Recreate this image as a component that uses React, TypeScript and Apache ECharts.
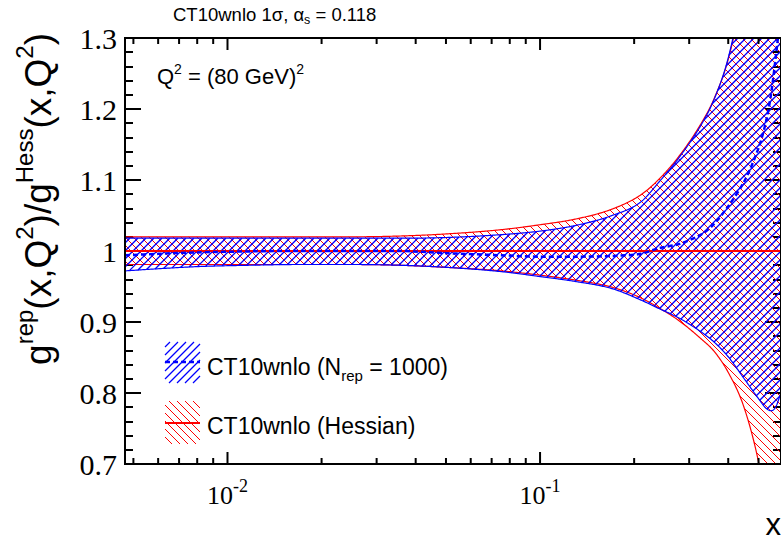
import React, { useEffect, useRef } from "react";
import * as echarts from "echarts";

// x values (log axis)
const xs = [0.0047, 0.006, 0.008, 0.012, 0.017, 0.025, 0.035, 0.05, 0.075, 0.1, 0.13, 0.17, 0.21, 0.24, 0.28, 0.33, 0.36, 0.4, 0.45, 0.5, 0.53, 0.55, 0.57, 0.59];
// Hessian band (red)
const hessUpper = [1.02, 1.02, 1.02, 1.02, 1.02, 1.02, 1.021, 1.024, 1.03, 1.037, 1.045, 1.059, 1.079, 1.101, 1.135, 1.182, 1.214, 1.27, 1.375, 1.5, 1.6, 1.68, 1.76, 1.85];
const hessLower = [0.981, 0.981, 0.981, 0.981, 0.981, 0.981, 0.98, 0.977, 0.972, 0.966, 0.959, 0.949, 0.934, 0.92, 0.901, 0.875, 0.859, 0.829, 0.779, 0.703, 0.64, 0.6, 0.56, 0.52];
const hessCentral = [1, 1, 1, 1, 1, 1, 1, 1, 1, 1, 1, 1, 1, 1, 1, 1, 1, 1, 1, 1, 1, 1, 1, 1];
// Replica band (blue)
const repUpper = [1.018, 1.018, 1.018, 1.018, 1.018, 1.018, 1.018, 1.019, 1.023, 1.028, 1.036, 1.05, 1.069, 1.097, 1.133, 1.18, 1.213, 1.272, 1.38, 1.5, 1.6, 1.68, 1.77, 1.86];
const repLower = [0.972, 0.975, 0.978, 0.98, 0.981, 0.981, 0.98, 0.977, 0.971, 0.964, 0.957, 0.947, 0.931, 0.919, 0.905, 0.885, 0.872, 0.851, 0.82, 0.792, 0.778, 0.775, 0.782, 0.801];
const repCentral = [0.994, 0.996, 0.998, 0.9995, 1.0, 1.0, 1.0, 0.997, 0.994, 0.992, 0.992, 0.993, 0.996, 1.004, 1.01, 1.024, 1.038, 1.063, 1.098, 1.145, 1.185, 1.225, 1.28, 1.34];

// axis ticks
const xMajorTicks = [0.01, 0.1];
const xMinorTicks = [0.005, 0.006, 0.007, 0.008, 0.009, 0.02, 0.03, 0.04, 0.05, 0.06, 0.07, 0.08, 0.09, 0.2, 0.3, 0.4, 0.5];

const BLUE = "#0000ff";
const RED = "#ff0000";
const SANS = "Liberation Sans";
const SERIF = "Liberation Serif";
const HATCH = 8;
const BLUE_HATCH_W = 1.3;
const RED_HATCH_W = 1;

// monotone cubic interpolation in pixel space (rendering only)
function monotone(px: number[], py: number[]) {
  const n = px.length;
  const d: number[] = [];
  const m: number[] = new Array(n).fill(0);
  for (let i = 0; i < n - 1; i++) d.push((py[i + 1] - py[i]) / (px[i + 1] - px[i]));
  m[0] = d[0];
  m[n - 1] = d[n - 2];
  for (let i = 1; i < n - 1; i++) m[i] = d[i - 1] * d[i] <= 0 ? 0 : (d[i - 1] + d[i]) / 2;
  for (let i = 0; i < n - 1; i++) {
    if (d[i] === 0) { m[i] = 0; m[i + 1] = 0; continue; }
    const a = m[i] / d[i], b = m[i + 1] / d[i];
    const s = a * a + b * b;
    if (s > 9) { const t = 3 / Math.sqrt(s); m[i] = t * a * d[i]; m[i + 1] = t * b * d[i]; }
  }
  return (x: number) => {
    if (x <= px[0]) return py[0] + m[0] * (x - px[0]);
    if (x >= px[n - 1]) return py[n - 1] + m[n - 1] * (x - px[n - 1]);
    let i = 0;
    while (i < n - 2 && x > px[i + 1]) i++;
    const h = px[i + 1] - px[i];
    const t = (x - px[i]) / h;
    const t2 = t * t, t3 = t2 * t;
    return (2 * t3 - 3 * t2 + 1) * py[i] + (t3 - 2 * t2 + t) * h * m[i] + (-2 * t3 + 3 * t2) * py[i + 1] + (t3 - t2) * h * m[i + 1];
  };
}

// hatch segments of 45deg lines inside region fTop(x) <= y <= fBot(x), x0<=x<=x1, yMin<=y<=yMax
function hatchSegments(x0: number, x1: number, fTop: (x: number) => number, fBot: (x: number) => number, back: boolean, yMin: number, yMax: number) {
  const segs: number[][] = [];
  const lineY = (c: number, x: number) => (back ? x - c : c - x);
  const inside = (c: number, x: number) => {
    const y = lineY(c, x);
    return y >= Math.max(fTop(x), yMin) && y <= Math.min(fBot(x), yMax) && x >= x0 && x <= x1;
  };
  const cMin = back ? x0 - yMax : x0 + yMin;
  const cMax = back ? x1 - yMin : x1 + yMax;
  const k0 = Math.ceil(cMin / HATCH), k1 = Math.floor(cMax / HATCH);
  for (let k = k0; k <= k1; k++) {
    const c = k * HATCH;
    let a = back ? c + yMin : c - yMax;
    let b = back ? c + yMax : c - yMin;
    a = Math.max(a, x0);
    b = Math.min(b, x1);
    if (b <= a) continue;
    const step = 0.5;
    let prev = inside(c, a);
    let start = prev ? a : NaN;
    for (let x = a + step; x <= b + 1e-9; x += step) {
      const cur = inside(c, x);
      if (cur !== prev) {
        let lo = x - step, hi = x;
        for (let it = 0; it < 8; it++) {
          const mid = (lo + hi) / 2;
          if (inside(c, mid) === prev) lo = mid; else hi = mid;
        }
        const xb = prev ? lo : hi;
        if (cur) start = xb;
        else { segs.push([start, lineY(c, start), xb, lineY(c, xb)]); start = NaN; }
        prev = cur;
      }
    }
    if (prev && !isNaN(start)) {
      const xe = Math.min(b, x1);
      segs.push([start, lineY(c, start), xe, lineY(c, xe)]);
    }
  }
  return segs;
}

// dense polyline runs clipped to [yMin, yMax]
function clippedRuns(f: (x: number) => number, x0: number, x1: number, yMin: number, yMax: number) {
  const runs: number[][][] = [];
  let cur: number[][] = [];
  let prevX = x0, prevY = f(x0);
  const inR = (y: number) => y >= yMin && y <= yMax;
  if (inR(prevY)) cur.push([prevX, prevY]);
  for (let x = x0 + 1; ; x += 1) {
    const xx = Math.min(x, x1);
    const y = f(xx);
    const pi = inR(prevY), ci = inR(y);
    if (pi !== ci) {
      const outY = pi ? y : prevY;
      const bound = outY < yMin ? yMin : yMax;
      const t = (bound - prevY) / (y - prevY);
      const bx = prevX + t * (xx - prevX);
      cur.push([bx, bound]);
      if (pi) { runs.push(cur); cur = []; }
    }
    if (ci) cur.push([xx, y]);
    prevX = xx; prevY = y;
    if (xx >= x1) break;
  }
  if (cur.length > 1) runs.push(cur);
  return runs;
}

function bandSeries(lower: number[], upper: number[], color: string, back: boolean, hatchW: number, z: number) {
  return {
    type: "custom",
    silent: true,
    z,
    encode: { x: 0, y: [1, 2] },
    data: xs.map((x, i) => [x, lower[i], upper[i]]),
    renderItem: (params: any, api: any) => {
      if (params.dataIndexInside !== 0) return null;
      const n = params.dataInsideLength;
      const px: number[] = [], pyU: number[] = [], pyL: number[] = [];
      for (let i = 0; i < n; i++) {
        const x = api.value(0, i);
        const pl = api.coord([x, api.value(1, i)]);
        const pu = api.coord([x, api.value(2, i)]);
        px.push(pl[0]);
        pyL.push(pl[1]);
        pyU.push(pu[1]);
      }
      const cs = params.coordSys;
      const yMin = cs.y, yMax = cs.y + cs.height;
      const x0 = Math.max(px[0], cs.x), x1 = Math.min(px[n - 1], cs.x + cs.width);
      const fU = monotone(px, pyU);
      const fL = monotone(px, pyL);
      const children: any[] = [];
      for (const s of hatchSegments(x0, x1, fU, fL, back, yMin, yMax)) {
        children.push({ type: "line", shape: { x1: s[0], y1: s[1], x2: s[2], y2: s[3] }, style: { stroke: color, lineWidth: hatchW } });
      }
      for (const f of [fU, fL]) {
        for (const run of clippedRuns(f, x0, x1, yMin, yMax)) {
          children.push({ type: "polyline", shape: { points: run }, style: { stroke: color, lineWidth: 1.2, fill: null } });
        }
      }
      return { type: "group", children };
    },
  };
}

function legendHatch(x: number, y: number, w: number, h: number, color: string, back: boolean, lw: number) {
  return hatchSegments(x, x + w, () => y, () => y + h, back, y, y + h).map((s) => ({
    type: "line",
    shape: { x1: s[0], y1: s[1], x2: s[2], y2: s[3] },
    style: { stroke: color, lineWidth: lw },
  }));
}

export default function App() {
  const ref = useRef<HTMLDivElement>(null);
  useEffect(() => {
    const chart = echarts.init(ref.current!, null, { renderer: "svg" });
    const pts = (arr: number[]) => xs.map((x, i) => [x, arr[i]]);

    const yAxisBase = {
      type: "value",
      min: 0.7,
      max: 1.3,
      interval: 0.1,
      axisLine: { show: false },
      axisTick: { show: true, inside: true, length: 16, lineStyle: { color: "#000", width: 2 } },
      minorTick: { show: true, splitNumber: 5, length: 8, lineStyle: { color: "#000", width: 2 } },
      splitLine: { show: false },
      minorSplitLine: { show: false },
    };

    const option: any = {
      animation: false,
      backgroundColor: "#fff",
      grid: { left: 125, right: 0, top: 38, bottom: 77, show: true, borderColor: "#000", borderWidth: 2, backgroundColor: "transparent", z: 8 },
      xAxis: {
        type: "log",
        logBase: 10,
        min: 0.0047,
        max: 0.59,
        axisLine: { show: false },
        axisTick: { show: false },
        minorTick: { show: false },
        splitLine: { show: false },
        minorSplitLine: { show: false },
        axisLabel: {
          showMinLabel: false,
          showMaxLabel: false,
          margin: 16,
          formatter: (v: number) => {
            const l = Math.log10(v);
            const e = Math.round(l);
            if (Math.abs(l - e) > 1e-6) return "";
            return `{b|10}{s|${e}}`;
          },
          rich: {
            b: { fontFamily: SERIF, fontSize: 26, lineHeight: 30, color: "#000", verticalAlign: "middle" },
            s: { fontFamily: SERIF, fontSize: 18, lineHeight: 18, color: "#000", verticalAlign: "middle", padding: [0, 0, 18, 0] },
          },
        },
      },
      yAxis: [
        {
          ...yAxisBase,
          position: "left",
          axisLabel: {
            fontFamily: SERIF,
            fontSize: 30,
            color: "#000",
            margin: 8,
            formatter: (v: number) => String(Math.round(v * 10) / 10),
          },
        },
        { ...yAxisBase, position: "right", axisLabel: { show: false } },
      ],
      series: [
        bandSeries(hessLower, hessUpper, RED, true, RED_HATCH_W, 2),
        bandSeries(repLower, repUpper, BLUE, false, BLUE_HATCH_W, 3),
        { type: "line", z: 5, data: pts(hessCentral), symbol: "none", lineStyle: { color: RED, width: 2 }, silent: true },
        { type: "line", z: 6, data: pts(repCentral), symbol: "none", smooth: 0.3, lineStyle: { color: BLUE, width: 2.5, type: [5, 3] }, silent: true },
        // x-axis ticks (bottom and top)
        {
          type: "custom",
          silent: true,
          z: 10,
          encode: { x: 0, y: 1 },
          data: [...xMajorTicks.map((v) => [v, 1, 1]), ...xMinorTicks.map((v) => [v, 1, 0])],
          renderItem: (params: any, api: any) => {
            const v = api.value(0);
            const major = api.value(2);
            const p = api.coord([v, 1]);
            const cs = params.coordSys;
            const len = major ? 12 : 6;
            const yb = cs.y + cs.height;
            return {
              type: "group",
              children: [
                { type: "line", shape: { x1: p[0], y1: yb, x2: p[0], y2: yb - len }, style: { stroke: "#000", lineWidth: 2 } },
                { type: "line", shape: { x1: p[0], y1: cs.y, x2: p[0], y2: cs.y + len }, style: { stroke: "#000", lineWidth: 2 } },
              ],
            };
          },
        },
      ],
      graphic: [
        {
          type: "text",
          x: 38,
          y: 33,
          rotation: Math.PI / 2,
          style: {
            text: "{n|g}{p|rep}{n|(x,Q}{p|2}{n|)/g}{p|Hess}{n|(x,Q}{p|2}{n|)}",
            align: "right",
            verticalAlign: "middle",
            rich: {
              n: { fontFamily: SANS, fontSize: 37, fill: "#000", lineHeight: 42 },
              p: { fontFamily: SANS, fontSize: 24, fill: "#000", lineHeight: 24, padding: [0, 0, 28, 0] },
            },
          },
        },
        {
          type: "text",
          x: 173,
          y: 14,
          style: {
            text: "{n|CT10wnlo 1σ, α}{b|s}{n| = 0.118}",
            align: "left",
            verticalAlign: "middle",
            rich: {
              n: { fontFamily: SANS, fontSize: 18.5, fill: "#000", lineHeight: 22 },
              b: { fontFamily: SANS, fontSize: 12.5, fill: "#000", lineHeight: 12, padding: [12, 0, 0, 0] },
            },
          },
        },
        {
          type: "text",
          x: 157,
          y: 76,
          style: {
            text: "{n|Q}{p|2}{n| = (80 GeV)}{p|2}",
            align: "left",
            verticalAlign: "middle",
            rich: {
              n: { fontFamily: SANS, fontSize: 22, fill: "#000", lineHeight: 25 },
              p: { fontFamily: SANS, fontSize: 14, fill: "#000", lineHeight: 14, padding: [0, 0, 14, 0] },
            },
          },
        },
        // legend
        { type: "group", children: legendHatch(165, 342, 35, 41, BLUE, false, BLUE_HATCH_W) },
        { type: "line", shape: { x1: 165, y1: 362, x2: 200, y2: 362 }, style: { stroke: BLUE, lineWidth: 2.5, lineDash: [5, 3] } },
        {
          type: "text",
          x: 207,
          y: 367,
          style: {
            text: "{n|CT10wnlo (N}{b|rep}{n| = 1000)}",
            align: "left",
            verticalAlign: "middle",
            rich: {
              n: { fontFamily: SANS, fontSize: 23, fill: "#000", lineHeight: 26 },
              b: { fontFamily: SANS, fontSize: 15, fill: "#000", lineHeight: 15, padding: [16, 0, 0, 0] },
            },
          },
        },
        { type: "group", children: legendHatch(165, 401, 35, 43, RED, true, RED_HATCH_W) },
        { type: "line", shape: { x1: 165, y1: 423, x2: 200, y2: 423 }, style: { stroke: RED, lineWidth: 2 } },
        {
          type: "text",
          x: 207,
          y: 426,
          style: { text: "CT10wnlo (Hessian)", fontFamily: SANS, fontSize: 23, fill: "#000", align: "left", verticalAlign: "middle" },
        },
        {
          type: "text",
          x: 781,
          y: 524,
          style: { text: "x", fontFamily: SANS, fontSize: 31, fill: "#000", align: "right", verticalAlign: "middle" },
        },
      ],
    };
    chart.setOption(option);
    return () => chart.dispose();
  }, []);
  return <div ref={ref} style={{ position: "fixed", left: 0, top: 0, width: 781, height: 541, background: "#fff" }} />;
}
